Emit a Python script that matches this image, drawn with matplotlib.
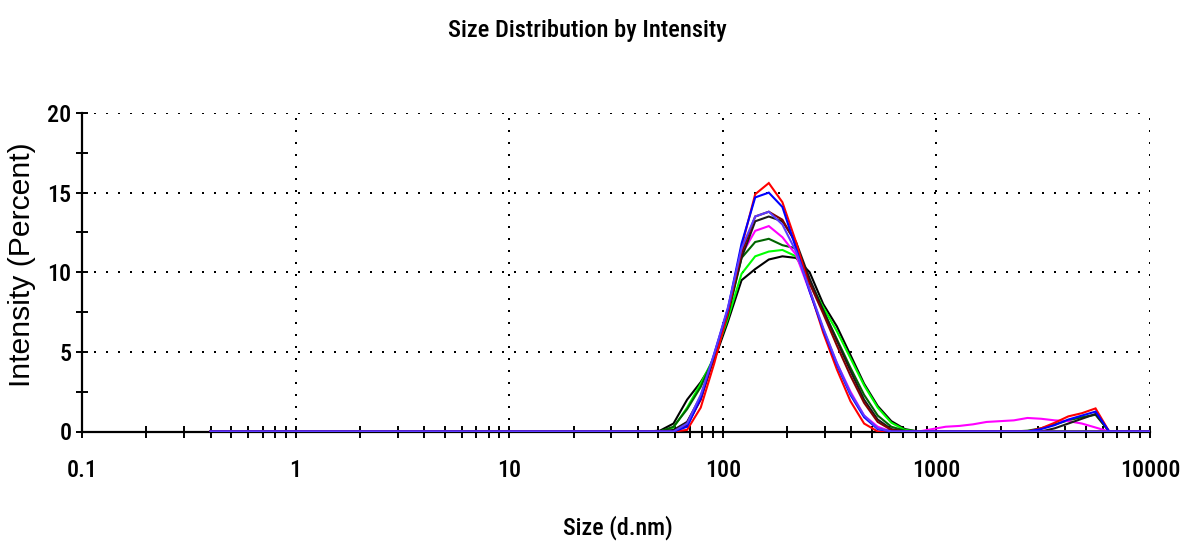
import os
import matplotlib
matplotlib.use("Agg")
import matplotlib.pyplot as plt
from matplotlib import font_manager
from matplotlib.font_manager import FontProperties
from matplotlib.ticker import FixedLocator, FixedFormatter, NullFormatter

# ---------------- data ----------------
sizes = [0.4, 0.4632, 0.5365, 0.6213, 0.7195, 0.8332, 0.9649, 1.117, 1.294, 1.499,
         1.736, 2.010, 2.328, 2.696, 3.122, 3.615, 4.187, 4.849, 5.615, 6.503,
         7.531, 8.721, 10.10, 11.70, 13.54, 15.69, 18.17, 21.04, 24.36, 28.21,
         32.67, 37.84, 43.82, 50.75, 58.77, 68.06, 78.82, 91.28, 105.7, 122.4,
         141.8, 164.2, 190.1, 220.2, 255.0, 295.3, 342.0, 396.1, 458.7, 531.2,
         615.1, 712.4, 825.0, 955.4, 1106, 1281, 1484, 1718, 1990, 2305,
         2669, 3091, 3580, 4145, 4801, 5560, 6439, 7456, 8635, 10000]

# intensities (%) per size bin; bins 0..32 (0.4 - 43.82 nm) are all zero
#            50.75 58.77 68.06 78.82 91.28 105.7 122.4 141.8 164.2 190.1 220.2 255.0 295.3 342.0 396.1 458.7 531.2 615.1 712.4 825.0 955.4 1106 1281 1484 1718 1990 2305 2669 3091 3580 4145 4801 5560 6439 7456 8635 10000
red     = [0]*33 + [0.0, 0.0, 0.1, 1.5, 4.3, 7.5, 11.6, 14.9, 15.6, 14.4, 11.9, 8.9, 6.2, 3.9, 1.9, 0.5, 0.0, 0.0, 0.0, 0.0,
                    0.0, 0.0, 0.0, 0.0, 0.0, 0.0, 0.0, 0.0, 0.2, 0.55, 0.95, 1.15, 1.45, 0.0, 0.0, 0.0, 0.0]
blue    = [0]*33 + [0.0, 0.0, 0.3, 2.1, 4.9, 7.7, 11.8, 14.7, 15.0, 14.1, 11.5, 8.8, 6.4, 4.2, 2.3, 0.9, 0.15, 0.0, 0.0, 0.0,
                    0.0, 0.0, 0.0, 0.0, 0.0, 0.0, 0.0, 0.0, 0.15, 0.4, 0.75, 1.0, 1.25, 0.0, 0.0, 0.0, 0.0]
violet  = [0]*33 + [0.0, 0.0, 0.5, 2.3, 4.9, 7.8, 11.5, 13.5, 13.8, 13.0, 11.3, 8.9, 6.5, 4.3, 2.4, 1.0, 0.2, 0.0, 0.0, 0.0,
                    0.0, 0.0, 0.0, 0.0, 0.0, 0.0, 0.0, 0.0, 0.0, 0.0, 0.0, 0.0, 0.0, 0.0, 0.0, 0.0, 0.0]
maroon  = [0]*33 + [0.0, 0.0, 0.4, 2.0, 4.7, 7.6, 11.2, 13.5, 13.8, 13.3, 11.8, 9.3, 7.4, 5.4, 3.5, 1.8, 0.6, 0.1, 0.0, 0.0,
                    0.0, 0.0, 0.0, 0.0, 0.0, 0.0, 0.0, 0.0, 0.0, 0.0, 0.0, 0.0, 0.0, 0.0, 0.0, 0.0, 0.0]
black1  = [0]*33 + [0.0, 0.1, 0.6, 2.2, 4.7, 7.5, 10.9, 13.2, 13.5, 13.2, 11.9, 9.6, 7.6, 5.7, 3.8, 2.0, 0.75, 0.15, 0.0, 0.0,
                    0.0, 0.0, 0.0, 0.0, 0.0, 0.0, 0.0, 0.0, 0.0, 0.2, 0.5, 0.8, 1.1, 0.0, 0.0, 0.0, 0.0]
magenta = [0]*33 + [0.0, 0.0, 0.6, 2.0, 4.8, 7.7, 11.1, 12.6, 12.9, 12.2, 11.1, 8.8, 6.4, 4.3, 2.5, 1.0, 0.3, 0.0, 0.0, 0.0,
                    0.15, 0.3, 0.35, 0.45, 0.6, 0.65, 0.7, 0.85, 0.8, 0.7, 0.65, 0.5, 0.25, 0.0, 0.0, 0.0, 0.0]
dkgreen = [0]*33 + [0.0, 0.3, 1.4, 2.8, 4.7, 7.3, 10.9, 11.9, 12.1, 11.7, 11.5, 9.4, 7.6, 5.8, 4.0, 2.3, 1.0, 0.3, 0.05, 0.0,
                    0.0, 0.0, 0.0, 0.0, 0.0, 0.0, 0.0, 0.05, 0.2, 0.45, 0.7, 0.9, 1.05, 0.0, 0.0, 0.0, 0.0]
lime    = [0]*33 + [0.0, 0.25, 1.5, 3.0, 4.7, 7.1, 9.9, 11.0, 11.3, 11.4, 11.0, 9.4, 7.8, 6.3, 4.6, 2.9, 1.5, 0.55, 0.1, 0.0,
                    0.0, 0.0, 0.0, 0.0, 0.0, 0.0, 0.0, 0.0, 0.0, 0.0, 0.0, 0.0, 0.0, 0.0, 0.0, 0.0, 0.0]
black2  = [0]*33 + [0.05, 0.5, 2.0, 3.1, 4.5, 6.9, 9.5, 10.2, 10.8, 11.0, 10.9, 10.0, 8.0, 6.6, 4.8, 3.0, 1.6, 0.65, 0.15, 0.0,
                    0.0, 0.0, 0.0, 0.0, 0.0, 0.0, 0.0, 0.0, 0.0, 0.0, 0.0, 0.0, 0.0, 0.0, 0.0, 0.0, 0.0]

series = [
    (black2, "#000000"),
    (lime, "#00ff00"),
    (dkgreen, "#006400"),
    (magenta, "#ff00ff"),
    (black1, "#1a1a1a"),
    (maroon, "#800000"),
    (red, "#ff0000"),
    (blue, "#0000ff"),
    (violet, "#5a3cff"),
]

x_major = [0.1, 1, 10, 100, 1000, 10000]
x_labels = ["0.1", "1", "10", "100", "1000", "10000"]
y_major = [0, 5, 10, 15, 20]
y_labels = ["0", "5", "10", "15", "20"]

title = "Size Distribution by Intensity"
xlabel = "Size (d.nm)"
ylabel = "Intensity (Percent)"

# ---------------- fonts ----------------
def pick_narrow():
    prefs = ["liberationsansnarrow-regular", "robotocondensed-medium", "robotocondensed-regular",
             "opensans_condensed", "dejavusanscondensed.ttf"]
    files = [f.fname for f in font_manager.fontManager.ttflist]
    for p in prefs:
        for fn in files:
            if p in os.path.basename(fn).lower().replace(" ", ""):
                return FontProperties(fname=fn)
    for fn in files:
        low = os.path.basename(fn).lower()
        if ("narrow" in low or "condensed" in low) and "bold" not in low and "italic" not in low \
                and "oblique" not in low and "light" not in low:
            return FontProperties(fname=fn)
    return FontProperties(family="Liberation Sans")

narrow = pick_narrow()
regular = FontProperties(family="Liberation Sans")

# ---------------- figure ----------------
W, H = 1182, 542
fig = plt.figure(figsize=(W / 100, H / 100), dpi=100)
ax = fig.add_axes([82 / W, 1 - 431.5 / H, (1150 - 82) / W, (431.5 - 113) / H])

for vals, col in series:
    ax.plot(sizes, vals, color=col, lw=1.5, solid_joinstyle="miter", zorder=3)

ax.set_xscale("log")
ax.set_xlim(0.1, 10000)
ax.set_ylim(0, 20)

ax.xaxis.set_major_locator(FixedLocator(x_major))
ax.xaxis.set_major_formatter(FixedFormatter(x_labels))
minors = [m * d for d in [0.1, 1, 10, 100, 1000] for m in range(2, 10)]
ax.xaxis.set_minor_locator(FixedLocator(minors))
ax.xaxis.set_minor_formatter(NullFormatter())
ax.yaxis.set_major_locator(FixedLocator(y_major))
ax.yaxis.set_major_formatter(FixedFormatter(y_labels))
ax.yaxis.set_minor_locator(FixedLocator([2.5, 7.5, 12.5, 17.5]))

for s in ["top", "right"]:
    ax.spines[s].set_visible(False)
for s in ["left", "bottom"]:
    ax.spines[s].set_linewidth(1.6)
    ax.spines[s].set_zorder(2)

grid_kw = dict(color="black", lw=1.44, linestyle=(0, (1, 5)), zorder=1)
for xv in [1, 10, 100, 1000, 10000]:
    ax.axvline(xv, **grid_kw)
for yv in [5, 10, 15, 20]:
    ax.axhline(yv, **grid_kw)

renderer = fig.canvas.get_renderer()

def fit_size(text, fp, target_w, base=20.0):
    t = fig.text(0, 0, text, fontproperties=fp, fontsize=base)
    w = t.get_window_extent(renderer).width
    t.remove()
    return base * target_w / w

tick_fp = narrow.copy()
tick_fp.set_size(fit_size("10000", narrow, 60))

ax.tick_params(which="both", direction="inout", width=1.4, color="black")
ax.tick_params(axis="y", which="both", length=9, pad=3)
ax.tick_params(axis="x", which="both", length=8, pad=16)
for lab in ax.get_xticklabels() + ax.get_yticklabels():
    lab.set_fontproperties(tick_fp)

title_fp = narrow.copy()
title_fp.set_size(fit_size(title, narrow, 278))
xl_fp = narrow.copy()
xl_fp.set_size(fit_size(xlabel, narrow, 110))
yl_fp = regular.copy()
yl_fp.set_size(fit_size(ylabel, regular, 244))

fig.text(587 / W, 1 - 30 / H, title, ha="center", va="center", fontproperties=title_fp)
fig.text(618 / W, 1 - 528 / H, xlabel, ha="center", va="center", fontproperties=xl_fp)
fig.text(22 / W, 1 - 265 / H, ylabel, ha="center", va="center", rotation=90, fontproperties=yl_fp)

fig.savefig("out.png", dpi=100)
